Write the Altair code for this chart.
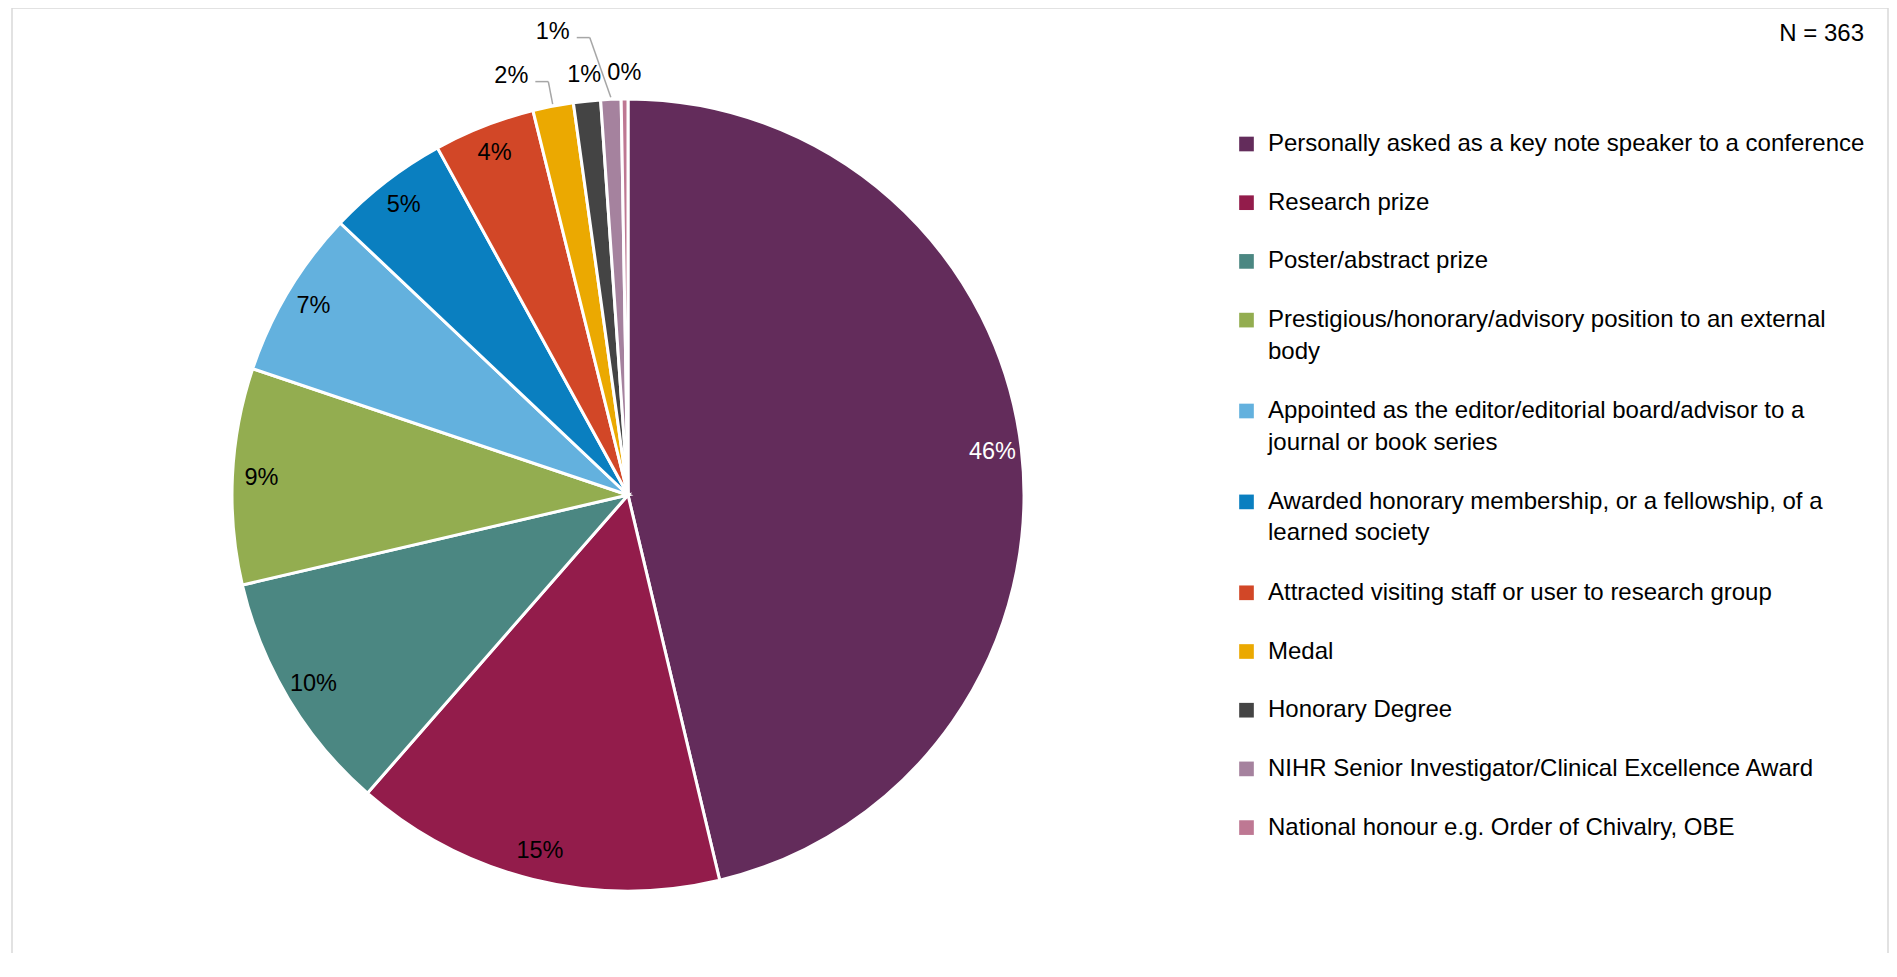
import textwrap
import numpy as np
import pandas as pd
import altair as alt

# ---------------- data ----------------
categories = [
    "Personally asked as a key note speaker to a conference",
    "Research prize",
    "Poster/abstract prize",
    "Prestigious/honorary/advisory position to an external body",
    "Appointed as the editor/editorial board/advisor to a journal or book series",
    "Awarded honorary membership, or a fellowship, of a learned society",
    "Attracted visiting staff or user to research group",
    "Medal",
    "Honorary Degree",
    "NIHR Senior Investigator/Clinical Excellence Award",
    "National honour e.g. Order of Chivalry, OBE",
]
counts = [168, 55, 36, 32, 25, 18, 15, 6, 4, 3, 1]
colors = ["#632C5B", "#931C4B", "#4B8782", "#93AD50", "#63B1DE", "#0A7FC0",
          "#D24727", "#EBA901", "#444444", "#A5829E", "#BE7893"]
n_label = "N = 363"

# ---------------- layout ----------------
W, H = 1876, 945
CX, CY, R = 616, 487, 396          # pie centre / radius (pixels in view)
FONT = "Liberation Sans"
R_IN, R_OUT = 367, 422             # label radii
# slices whose labels Excel moved out with a leader line: elbow radius, angle shift (deg)
callouts = {"Medal": (421, 0.0),
            "NIHR Senior Investigator/Clinical Excellence Award": (459, -2.3)}

total = sum(counts)
vals = np.array(counts, dtype=float)
mid = (np.cumsum(vals) - vals / 2) / total * 2 * np.pi

pie_df = pd.DataFrame({"category": categories, "value": counts, "idx": range(len(counts))})

lab_rows, seg_rows = [], []
for i, (c, v) in enumerate(zip(categories, counts)):
    pct = 100 * v / total
    text = f"{pct:.0f}%"
    a = mid[i]
    if c in callouts:
        re_, sh = callouts[c]
        ae = a + np.radians(sh)
        sx, sy = CX + (R + 2) * np.sin(a), CY - (R + 2) * np.cos(a)
        ex, ey = CX + re_ * np.sin(ae), CY - re_ * np.cos(ae)
        hx = ex - 13
        seg_rows.append({"x": sx, "y": sy, "x2": ex, "y2": ey})
        seg_rows.append({"x": ex, "y": ey, "x2": hx, "y2": ey})
        lab_rows.append({"category": c, "text": text, "lx": hx - 7, "ly": ey - 6, "al": "right"})
    else:
        r = R_IN if pct >= 3 else R_OUT
        lab_rows.append({"category": c, "text": text,
                         "lx": CX + r * np.sin(a), "ly": CY - r * np.cos(a), "al": "center"})
lab_df = pd.DataFrame(lab_rows)
seg_df = pd.DataFrame(seg_rows)

# legend rows
LX_SQ, LX_TX, LY0, STEP, LINE, EXTRA = 1234.5, 1256, 136, 58.7, 31.5, 32.2
sq_rows, tx_rows = [], []
extra = 0
for i, c in enumerate(categories):
    lines = textwrap.wrap(c, 54)
    y = LY0 + i * STEP + extra * EXTRA
    sq_rows.append({"category": c, "x": LX_SQ, "y": y})
    for j, ln in enumerate(lines):
        tx_rows.append({"line": ln, "x": LX_TX, "y": y + j * LINE})
    extra += len(lines) - 1
sq_df = pd.DataFrame(sq_rows)
tx_df = pd.DataFrame(tx_rows)

color = alt.Color("category:N", scale=alt.Scale(domain=categories, range=colors), legend=None)

border = alt.Chart(pd.DataFrame({"a": [0]})).mark_rect(
    fillOpacity=0, stroke="#D9D9D9", strokeWidth=1.5
).encode(x=alt.value(0), x2=alt.value(W), y=alt.value(0), y2=alt.value(H + 40))

pie = alt.Chart(pie_df).mark_arc(outerRadius=R, stroke="white", strokeWidth=3).encode(
    theta=alt.Theta("value:Q", stack=True),
    color=color,
    order=alt.Order("idx:Q", sort="ascending"),
    x=alt.value(CX), y=alt.value(CY),
)

leaders = alt.Chart(seg_df).mark_rule(color="#A6A6A6", strokeWidth=1.5).encode(
    x=alt.X("x:Q", scale=None, axis=None), y=alt.Y("y:Q", scale=None, axis=None),
    x2="x2:Q", y2="y2:Q",
)

def labels(al):
    return alt.Chart(lab_df[lab_df["al"] == al]).mark_text(
        font=FONT, fontSize=23.5, align=al, baseline="middle"
    ).encode(
        x=alt.X("lx:Q", scale=None, axis=None), y=alt.Y("ly:Q", scale=None, axis=None),
        text="text:N",
        color=alt.condition(alt.datum.category == categories[0], alt.value("white"), alt.value("black")),
    )

leg_sq = alt.Chart(sq_df).mark_square(size=215, opacity=1).encode(
    x=alt.X("x:Q", scale=None, axis=None), y=alt.Y("y:Q", scale=None, axis=None), color=color,
)
leg_tx = alt.Chart(tx_df).mark_text(font=FONT, fontSize=24, align="left", baseline="middle", color="black").encode(
    x=alt.X("x:Q", scale=None, axis=None), y=alt.Y("y:Q", scale=None, axis=None), text="line:N",
)
n_text = alt.Chart(pd.DataFrame({"t": [n_label]})).mark_text(
    font=FONT, fontSize=24, align="right", baseline="middle", color="black"
).encode(x=alt.value(1852), y=alt.value(26), text="t:N")

chart = alt.layer(border, pie, leaders, labels("center"), labels("right"), leg_sq, leg_tx, n_text).properties(
    width=W, height=H,
    autosize=alt.AutoSizeParams(type="none"),
    padding={"left": 4, "top": 0, "right": 1, "bottom": 0},
).configure_view(strokeWidth=0)

chart.save("out.html", embed_options={"renderer": "svg", "actions": False})
